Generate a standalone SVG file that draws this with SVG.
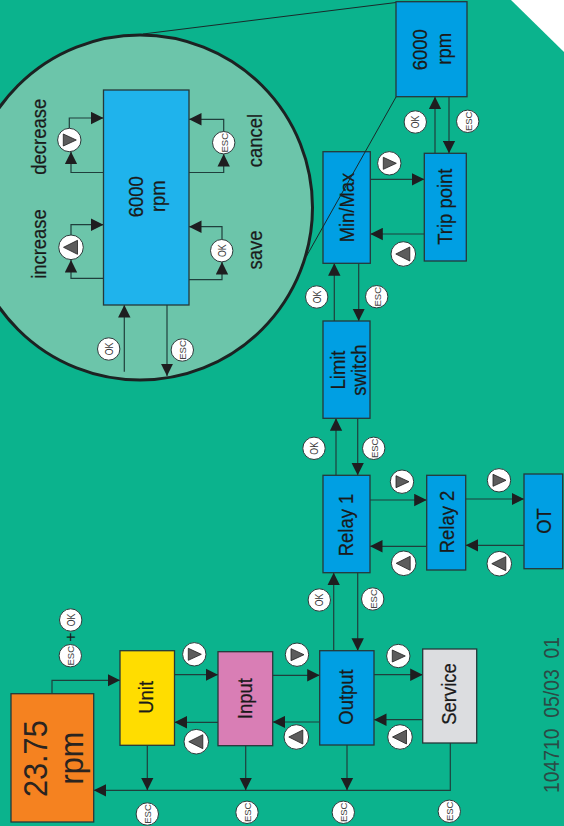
<svg xmlns="http://www.w3.org/2000/svg" width="564" height="826" viewBox="0 0 564 826">
<style>
.box{stroke:#26383a;stroke-width:1.3}
.blue{fill:#009fe3}
.c{fill:none;stroke:#1f3f3c;stroke-width:1.2}
.a{marker-end:url(#ah)}
.z{fill:none;stroke:#1a2a2a;stroke-width:1}
text{font-family:"Liberation Sans",Arial,sans-serif;fill:#1a1a1a;text-anchor:middle}
.t{font-size:20.5px;stroke:#1a1a1a;stroke-width:.25}
.big{font-size:33px;fill:#2a2420}
.k{font-size:11px;fill:#333}
.e{font-size:9.5px;fill:#444}
.foot{font-size:21.5px;fill:#2b4a45;white-space:pre}
.bc{fill:#fff;stroke:#2a3a3a;stroke-width:1}
.tri{fill:#5c5c5c;stroke:#222;stroke-width:.8}
</style>
<defs>
<marker id="ah" markerUnits="userSpaceOnUse" markerWidth="13" markerHeight="13" refX="12.5" refY="6.5" orient="auto">
<path d="M0,0.3L12.5,6.5L0,12.7Z" fill="#1e1e20"/>
</marker>
<g id="R"><circle r="11.7" class="bc"/><path class="tri" d="M-6,-6L7,0L-6,6Z"/></g>
<g id="L"><circle r="12.3" class="bc"/><path class="tri" d="M-7.5,0L6.5,-7L6.5,7Z"/></g>
<circle id="K" r="11.2" class="bc"/>
</defs>
<rect width="564" height="826" fill="#0bb38d"/>
<path d="M511,0H564V52Z" fill="#fff"/>
<g id="lens">
<circle cx="140" cy="207.5" r="172.5" fill="#6cc5aa" stroke="#1c2222" stroke-width="3"/>
<path class="z" d="M143,34L396,2.5"/>
</g>
<g id="connectors">
<path class="c a" d="M52,693.7V680.3H120"/>
<path class="c a" d="M174.5,674.7H218"/>
<path class="c a" d="M218,722.3H174.5"/>
<path class="c a" d="M272.7,675.3H319.7"/>
<path class="c a" d="M319.7,722H272.7"/>
<path class="c a" d="M374,674.7H422.7"/>
<path class="c a" d="M422.7,719.7H374"/>
<path class="c a" d="M450.3,743V790.3H93.7"/>
<path class="c a" d="M147.3,745.3V790.3"/>
<path class="c a" d="M245.7,745.7V790.3"/>
<path class="c a" d="M347,745V790.3"/>
<path class="c a" d="M333.7,650.7V572.7"/>
<path class="c a" d="M357.7,572.7V650.7"/>
<path class="c a" d="M336,475.3V418.3"/>
<path class="c a" d="M357.7,418.3V475.3"/>
<path class="c a" d="M334.3,321V263.3"/>
<path class="c a" d="M358.7,263.3V321"/>
<path class="c a" d="M370,500H426.7"/>
<path class="c a" d="M426.7,546.3H370"/>
<path class="c a" d="M465.7,499H524"/>
<path class="c a" d="M524,545.3H465.7"/>
<path class="c a" d="M370.3,179.3H424.3"/>
<path class="c a" d="M424.3,234H370.3"/>
<path class="c a" d="M435,153.3V96.7"/>
<path class="c a" d="M449,96.7V153.3"/>
<path class="c a" d="M103.5,172.5H71V151.7"/>
<path class="c a" d="M69.3,128V118H103.5"/>
<path class="c a" d="M103.5,278.3H71V260"/>
<path class="c a" d="M71,235V224.7H103.5"/>
<path class="c a" d="M189,172.5H223.7V154"/>
<path class="c a" d="M223.7,132V119.3H189"/>
<path class="c a" d="M189,279.7H222V262"/>
<path class="c a" d="M222,240V226.7H189"/>
<path class="c a" d="M124.3,371.7V305"/>
<path class="c a" d="M167,305V376"/>
</g>
<g id="node-rpm"><rect class="box" x="11" y="693.7" width="82.7" height="128.3" fill="#f58220"/>
<text class="big" transform="translate(47,758.7) rotate(-90) scale(.93,1)">23.75</text>
<text class="big" transform="translate(82.5,758) rotate(-90) scale(.93,1)">rpm</text></g>
<g id="node-unit"><rect class="box" x="120" y="650.7" width="54.5" height="94.6" fill="#ffdd00"/><text class="t" transform="translate(153.3,697.3) rotate(-90) scale(.9,1)">Unit</text></g>
<g id="node-input"><rect class="box" x="218" y="651.7" width="54.7" height="94" fill="#d97eb5"/><text class="t" transform="translate(252.3,698.7) rotate(-90) scale(.9,1)">Input</text></g>
<g id="node-output"><rect class="box blue" x="319.7" y="650.7" width="54.3" height="94.3"/><text class="t" transform="translate(353.3,697) rotate(-90) scale(.9,1)">Output</text></g>
<g id="node-service"><rect class="box" x="422.7" y="649" width="54" height="94" fill="#dcdde0"/><text class="t" transform="translate(456,694) rotate(-90) scale(.9,1)">Service</text></g>
<g id="node-relay1"><rect class="box blue" x="323" y="475.3" width="47" height="97.4"/><text class="t" transform="translate(353.3,525) rotate(-90) scale(.9,1)">Relay 1</text></g>
<g id="node-relay2"><rect class="box blue" x="426.7" y="475.3" width="39" height="94.7"/><text class="t" transform="translate(454,522) rotate(-90) scale(.9,1)">Relay 2</text></g>
<g id="node-ot"><rect class="box blue" x="524" y="474" width="38.7" height="94.7"/><text class="t" transform="translate(550.7,521) rotate(-90) scale(.9,1)">OT</text></g>
<g id="node-limit"><rect class="box blue" x="323" y="321" width="47" height="97.3"/><text class="t" transform="translate(345,370) rotate(-90) scale(.9,1)">Limit</text><text class="t" transform="translate(366,370) rotate(-90) scale(.9,1)">switch</text></g>
<g id="node-minmax"><rect class="box blue" x="323" y="151.7" width="47.3" height="111.6"/><text class="t" transform="translate(354,207.5) rotate(-90) scale(.9,1)">Min/Max</text></g>
<g id="node-trip"><rect class="box blue" x="424.3" y="153.3" width="42" height="107.7"/><text class="t" transform="translate(452,206.7) rotate(-90) scale(.9,1)">Trip point</text></g>
<g id="node-6000"><rect class="box blue" x="396" y="1.7" width="71" height="95"/><text class="t" transform="translate(427.3,49.7) rotate(-90) scale(.9,1)">6000</text><text class="t" transform="translate(451,48.8) rotate(-90) scale(.9,1)">rpm</text></g>
<path class="z" d="M396,97L306,257"/>
<g id="node-detail"><rect class="box" x="103.5" y="90" width="85.5" height="215" fill="#1fb3ec"/><text class="t" transform="translate(142.7,196.7) rotate(-90) scale(.9,1)">6000</text><text class="t" transform="translate(165,196.2) rotate(-90) scale(.9,1)">rpm</text></g>
<g id="labels">
<text class="t" transform="translate(46,136.7) rotate(-90) scale(.9,1)">decrease</text>
<text class="t" transform="translate(46,244) rotate(-90) scale(.9,1)">increase</text>
<text class="t" transform="translate(262,140.5) rotate(-90) scale(.9,1)">cancel</text>
<text class="t" transform="translate(262,250) rotate(-90) scale(.9,1)">save</text>
<text class="foot" transform="translate(559,715) rotate(-90) scale(.9,1)">104710  05/03  01</text>
</g>
<g id="arrow-buttons">
<use href="#R" x="194.3" y="654.3"/><use href="#L" x="196.3" y="741.7"/>
<use href="#R" x="297" y="654.7"/><use href="#L" x="296.3" y="737"/>
<use href="#R" x="398.3" y="656"/><use href="#L" x="400" y="737"/>
<use href="#R" x="402" y="481.7"/><use href="#L" x="403.7" y="563.3"/>
<use href="#R" x="499" y="480.3"/><use href="#L" x="499.3" y="563.7"/>
<use href="#R" x="389.3" y="163.3"/><use href="#L" x="403.3" y="254"/>
<use href="#R" x="69.3" y="140"/><use href="#L" x="71" y="247.3"/>
</g>
<g id="key-buttons">
<use href="#K" x="70.7" y="620"/><text class="k" transform="translate(74.7,620) rotate(-90) scale(.8,1)">OK</text>
<use href="#K" x="70.3" y="655.7"/><text class="e" transform="translate(74.3,655.7) rotate(-90)">ESC</text>
<text style="font-size:16px" transform="translate(76,637) rotate(-90)">+</text>
<use href="#K" x="147.3" y="814"/><text class="e" transform="translate(151.3,814) rotate(-90)">ESC</text>
<use href="#K" x="247" y="812.3"/><text class="e" transform="translate(251,812.3) rotate(-90)">ESC</text>
<use href="#K" x="343.3" y="812.3"/><text class="e" transform="translate(347.3,812.3) rotate(-90)">ESC</text>
<use href="#K" x="449.3" y="811.3"/><text class="e" transform="translate(453.3,811.3) rotate(-90)">ESC</text>
<use href="#K" x="319.3" y="600"/><text class="k" transform="translate(323.3,600) rotate(-90) scale(.8,1)">OK</text>
<use href="#K" x="372.7" y="599"/><text class="e" transform="translate(376.7,599) rotate(-90)">ESC</text>
<use href="#K" x="314" y="448.3"/><text class="k" transform="translate(318,448.3) rotate(-90) scale(.8,1)">OK</text>
<use href="#K" x="373.7" y="448.3"/><text class="e" transform="translate(377.7,448.3) rotate(-90)">ESC</text>
<use href="#K" x="316.7" y="297"/><text class="k" transform="translate(320.7,297) rotate(-90) scale(.8,1)">OK</text>
<use href="#K" x="376.7" y="296.7"/><text class="e" transform="translate(380.7,296.7) rotate(-90)">ESC</text>
<use href="#K" x="415.3" y="122"/><text class="k" transform="translate(419.3,122) rotate(-90) scale(.8,1)">OK</text>
<use href="#K" x="467.7" y="121.3"/><text class="e" transform="translate(471.7,121.3) rotate(-90)">ESC</text>
<use href="#K" x="223.7" y="142.7"/><text class="e" transform="translate(227.7,142.7) rotate(-90)">ESC</text>
<use href="#K" x="221.7" y="250.7"/><text class="k" transform="translate(225.7,250.7) rotate(-90) scale(.8,1)">OK</text>
<use href="#K" x="108.7" y="349"/><text class="k" transform="translate(112.7,349) rotate(-90) scale(.8,1)">OK</text>
<use href="#K" x="182.3" y="350"/><text class="e" transform="translate(186.3,350) rotate(-90)">ESC</text>
</g>
</svg>
